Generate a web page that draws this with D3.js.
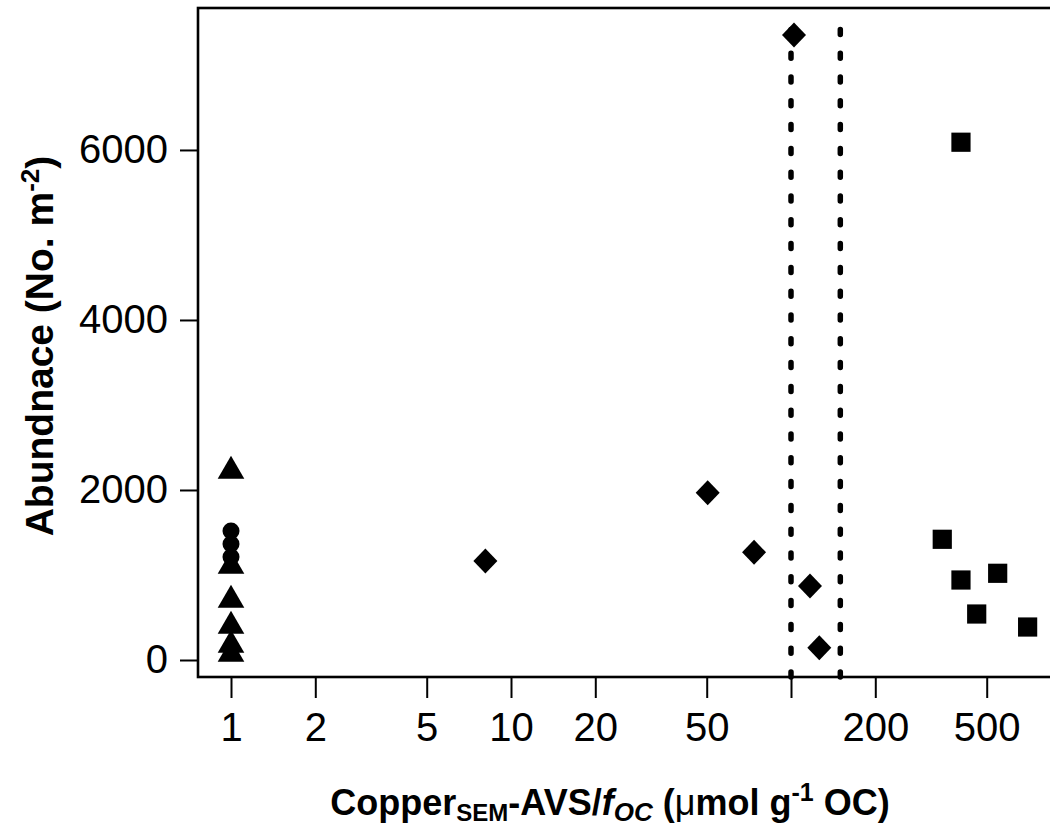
<!DOCTYPE html>
<html>
<head>
<meta charset="utf-8">
<script src="https://cdn.jsdelivr.net/npm/d3@7"></script>
<style>
  body { margin: 0; background: #fff; }
  text { font-family: "Liberation Sans", Arial, sans-serif; }
</style>
</head>
<body>
<script>
// values
const triX = [1, 1, 1, 1, 1, 1]
const triY = [2224, 1106, 706, 400, 176, 70]
const circX = [1, 1, 1]
const circY = [1518, 1365, 1212]
const diamX = [8.1, 50.4, 73.8, 102.5, 116.9, 126.2]
const diamY = [1165, 1968, 1267, 7353, 871, 145]
const sqX = [346.9, 404.6, 404.6, 460.5, 547.2, 700]
const sqY = [1420, 6091, 941, 541, 1020, 388]
const vlines = [100, 150]
const vlineSpan = [-200, 7530]
const xTicks = [1, 2, 5, 10, 20, 50, 100, 200, 500]
const xTickLabels = ["1", "2", "5", "10", "20", "50", "", "200", "500"]
const yTicks = [0, 2000, 4000, 6000]

let w = 1050, h = 829
let svg = d3.select("body").append("svg")
    .attr("width", w)
    .attr("height", h)

let pl = 198, pr = 1058, pt = 8, pb = 677
let xScale = d3.scaleLog()
    .domain([Math.pow(10, -33 / 280), Math.pow(10, 827 / 280)])
    .range([pl, pr])
let yScale = d3.scaleLinear()
    .domain([-200, 7670])
    .range([pb, pt])

//box
svg.append("rect")
    .attr("x", pl).attr("y", pt)
    .attr("width", pr - pl).attr("height", pb - pt)
    .attr("fill", "none").attr("stroke", "#000").attr("stroke-width", 2.6)

//y axis
let yAxis = d3.axisLeft(yScale).tickValues(yTicks).tickSize(18).tickPadding(12).tickFormat(d3.format("d"))
let gy = svg.append("g")
    .attr("transform", "translate(" + pl + ",0)")
    .call(yAxis)
gy.select(".domain").remove()
gy.selectAll(".tick line").attr("stroke-width", 2)
gy.selectAll(".tick text").attr("font-size", 40).attr("fill", "#000")
    .attr("font-family", "Liberation Sans, Arial, sans-serif")

//x axis
let xAxis = d3.axisBottom(xScale).tickValues(xTicks).tickSize(21).tickPadding(15)
    .tickFormat((d, i) => xTickLabels[i])
let gx = svg.append("g")
    .attr("transform", "translate(0," + pb + ")")
    .call(xAxis)
gx.select(".domain").remove()
gx.selectAll(".tick line").attr("stroke-width", 2)
gx.selectAll(".tick text").attr("font-size", 40).attr("fill", "#000")
    .attr("font-family", "Liberation Sans, Arial, sans-serif")

//dotted lines
svg.selectAll(".vline")
    .data(vlines)
    .enter()
    .append("line")
    .attr("class", "vline")
    .attr("x1", d => xScale(d)).attr("x2", d => xScale(d))
    .attr("y1", yScale(vlineSpan[0])).attr("y2", yScale(vlineSpan[1]))
    .attr("stroke", "#000").attr("stroke-width", 5.5)
    .attr("stroke-linecap", "round")
    .attr("stroke-dasharray", "5,18.8")

//points
let pts = svg.append("g")
pts.selectAll(".tri")
    .data(triX.map((x, i) => [x, triY[i]]))
    .enter()
    .append("path")
    .attr("transform", d => "translate(" + xScale(d[0]) + "," + yScale(d[1]) + ")")
    .attr("d", "M0,-15.3L13.3,7.7L-13.3,7.7Z")
pts.selectAll(".circ")
    .data(circX.map((x, i) => [x, circY[i]]))
    .enter()
    .append("circle")
    .attr("cx", d => xScale(d[0])).attr("cy", d => yScale(d[1]))
    .attr("r", 8.5)
pts.selectAll(".diam")
    .data(diamX.map((x, i) => [x, diamY[i]]))
    .enter()
    .append("path")
    .attr("transform", d => "translate(" + xScale(d[0]) + "," + yScale(d[1]) + ")")
    .attr("d", "M0,-12.5L12,0L0,12.5L-12,0Z")
pts.selectAll(".sq")
    .data(sqX.map((x, i) => [x, sqY[i]]))
    .enter()
    .append("rect")
    .attr("x", d => xScale(d[0]) - 9.6).attr("y", d => yScale(d[1]) - 9.6)
    .attr("width", 19.2).attr("height", 19.2)

//axis titles
let xt = svg.append("text")
    .attr("x", 610).attr("y", 815)
    .attr("text-anchor", "middle")
    .attr("font-size", 36).attr("font-weight", "bold")
xt.append("tspan").text("Copper")
xt.append("tspan").attr("font-size", 24).attr("dy", 6).text("SEM")
xt.append("tspan").attr("dy", -6).text("-AVS/")
xt.append("tspan").attr("font-style", "italic").text("f")
xt.append("tspan").attr("font-style", "italic").attr("font-size", 26).attr("dy", 6).text("OC")
xt.append("tspan").attr("dy", -6).text(" (")
xt.append("tspan").attr("font-weight", "normal").text("μ")
xt.append("tspan").text("mol g")
xt.append("tspan").attr("font-size", 25).attr("dy", -14).text("-1")
xt.append("tspan").attr("dy", 14).text(" OC)")

let yt = svg.append("text")
    .attr("transform", "translate(53,346) rotate(-90)")
    .attr("text-anchor", "middle")
    .attr("font-size", 39).attr("font-weight", "bold")
yt.append("tspan").text("Abundnace (No. m")
yt.append("tspan").attr("font-size", 26).attr("dy", -14).text("-2")
yt.append("tspan").attr("dy", 14).text(")")
</script>
</body>
</html>
